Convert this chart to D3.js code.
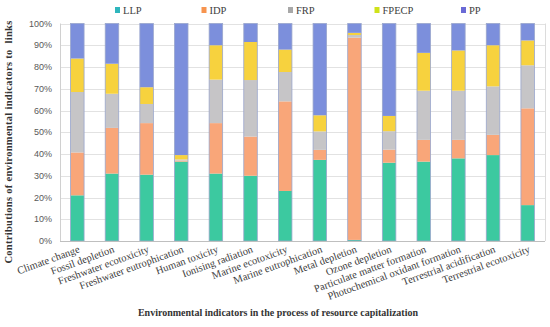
<!DOCTYPE html>
<html>
<head>
<meta charset="utf-8">
<script src="https://cdn.jsdelivr.net/npm/d3@7"></script>
<style>
  body { margin: 0; background: #fff; }
  svg { display: block; }
</style>
</head>
<body>
<div class="main"></div>
<script>
// categories along the x axis
var categories = ["Climate change", "Fossil depletion", "Freshwater ecotoxicity", "Freshwater eutrophication",
    "Human toxicity", "Ionising radiation", "Marine ecotoxicity", "Marine eutrophication", "Metal depletion",
    "Ozone depletion", "Particulate matter formation", "Photochemical oxidant formation",
    "Terrestrial acidification", "Terrestrial ecotoxicity"];

var seriesNames = ["LLP", "IDP", "FRP", "FPECP", "PP"];

// percent contributions, one array per series
var LLP   = [21.0, 31.0, 30.5, 36.5, 31.0, 30.0, 23.0, 37.3, 0.5, 36.0, 36.5, 38.0, 39.5, 16.5];
var IDP   = [19.7, 21.0, 23.7, 0.5, 23.2, 18.0, 41.2, 4.6, 93.0, 6.0, 10.0, 8.5, 9.3, 44.5];
var FRP   = [27.8, 15.7, 8.8, 0.5, 20.0, 26.0, 13.5, 8.5, 1.2, 8.5, 22.6, 22.6, 22.3, 19.8];
var FPECP = [15.4, 13.8, 7.7, 2.0, 15.8, 17.5, 10.3, 7.4, 1.0, 7.0, 17.4, 18.5, 18.9, 11.4];
var PP    = [16.1, 18.5, 29.3, 60.5, 10.0, 8.5, 12.0, 42.2, 4.3, 42.5, 13.5, 12.4, 10.0, 7.8];

var yTicks = [0, 10, 20, 30, 40, 50, 60, 70, 80, 90, 100];

var width = 550, height = 327;
var margin = { top: 23.5, right: 5, bottom: 86, left: 60 };

var colors = { LLP: "#3cc9a0", IDP: "#f9a679", FRP: "#c6c5c7", FPECP: "#f7d23e", PP: "#7c8fdc" };
var legendColors = { LLP: "#2fb6bd", IDP: "#f7944f", FRP: "#a8a8a8", FPECP: "#cfe21a", PP: "#6a6ad6" };

var table = categories.map(function (c, i) {
    return { cat: c, LLP: LLP[i], IDP: IDP[i], FRP: FRP[i], FPECP: FPECP[i], PP: PP[i] };
});

var stack = d3.stack().keys(seriesNames).offset(d3.stackOffsetExpand);
var layers = stack(table);

var svg = d3.select("div.main")
    .append("svg")
    .attr("width", width)
    .attr("height", height);

var x = d3.scaleBand()
    .domain(categories)
    .range([margin.left, width - margin.right])
    .paddingInner(0.61)
    .paddingOuter(0.305);

var y = d3.scaleLinear()
    .domain([0, 1])
    .range([height - margin.bottom, margin.top]);

// grid
svg.append("g").selectAll("line")
    .data(yTicks)
    .enter().append("line")
    .attr("x1", margin.left)
    .attr("x2", width - margin.right)
    .attr("y1", d => Math.round(y(d / 100)) + 0.5)
    .attr("y2", d => Math.round(y(d / 100)) + 0.5)
    .attr("stroke", "#e2e2e2")
    .attr("stroke-width", 1);

// frame
svg.append("line")
    .attr("x1", width - margin.right + 0.5).attr("x2", width - margin.right + 0.5)
    .attr("y1", y(1)).attr("y2", y(0))
    .attr("stroke", "#dcdcdc");
svg.append("line")
    .attr("x1", margin.left + 0.5).attr("x2", margin.left + 0.5)
    .attr("y1", y(1)).attr("y2", y(0))
    .attr("stroke", "#d0d0d0");

// bars
svg.append("g").selectAll("g")
    .data(layers)
    .enter().append("g")
    .attr("fill", d => colors[d.key])
    .selectAll("rect")
    .data(d => d)
    .enter().append("rect")
    .attr("x", d => x(d.data.cat))
    .attr("width", x.bandwidth())
    .attr("y", d => y(d[1]))
    .attr("height", d => y(d[0]) - y(d[1]));

// bar outlines
svg.append("g").selectAll("rect")
    .data(categories)
    .enter().append("rect")
    .attr("x", d => x(d))
    .attr("width", x.bandwidth())
    .attr("y", y(1))
    .attr("height", y(0) - y(1))
    .attr("fill", "none")
    .attr("stroke", "#9aa6cc")
    .attr("stroke-width", 0.8);

// x axis baseline
svg.append("line")
    .attr("x1", margin.left).attr("x2", width - margin.right)
    .attr("y1", Math.round(y(0)) + 0.5).attr("y2", Math.round(y(0)) + 0.5)
    .attr("stroke", "#bfbfbf");

// y tick labels
svg.append("g").selectAll("text")
    .data(yTicks)
    .enter().append("text")
    .attr("x", margin.left - 8)
    .attr("y", d => y(d / 100))
    .attr("dy", "0.35em")
    .attr("text-anchor", "end")
    .attr("fill", "#595959")
    .style("font-family", "Liberation Sans, sans-serif")
    .style("font-size", "9px")
    .text(d => d + "%");

// category labels
svg.append("g").selectAll("text")
    .data(categories)
    .enter().append("text")
    .attr("transform", d => "translate(" + (x(d) + x.bandwidth() / 2 + 3) + "," + (y(0) + 11) + ") rotate(-20)")
    .attr("text-anchor", "end")
    .attr("fill", "#404040")
    .style("font-family", "Liberation Serif, serif")
    .style("font-size", "10.5px")
    .text(d => d);

// axis titles
svg.append("text")
    .attr("x", 278)
    .attr("y", 316)
    .attr("text-anchor", "middle")
    .attr("fill", "#333")
    .style("font-family", "Liberation Serif, serif")
    .style("font-weight", "bold")
    .style("font-size", "10px")
    .text("Environmental indicators in the process of resource capitalization");

svg.append("text")
    .attr("transform", "translate(12,142) rotate(-90)")
    .attr("text-anchor", "middle")
    .attr("fill", "#333")
    .style("font-family", "Liberation Serif, serif")
    .style("font-weight", "bold")
    .style("font-size", "10.5px")
    .style("letter-spacing", "0.3px")
    .style("white-space", "pre")
    .text("Contributions of environmental indicators to  links");

// legend
var legend = svg.append("g").selectAll("g")
    .data(seriesNames)
    .enter().append("g")
    .attr("transform", (d, i) => "translate(" + (115 + i * 86.5) + ",10)");

legend.append("rect")
    .attr("x", 0).attr("y", -3)
    .attr("width", 5).attr("height", 6)
    .attr("fill", d => legendColors[d]);

legend.append("text")
    .attr("x", 8)
    .attr("y", 0)
    .attr("dy", "0.35em")
    .attr("fill", "#404040")
    .style("font-family", "Liberation Serif, serif")
    .style("font-size", "10.5px")
    .text(d => d);
</script>
</body>
</html>
